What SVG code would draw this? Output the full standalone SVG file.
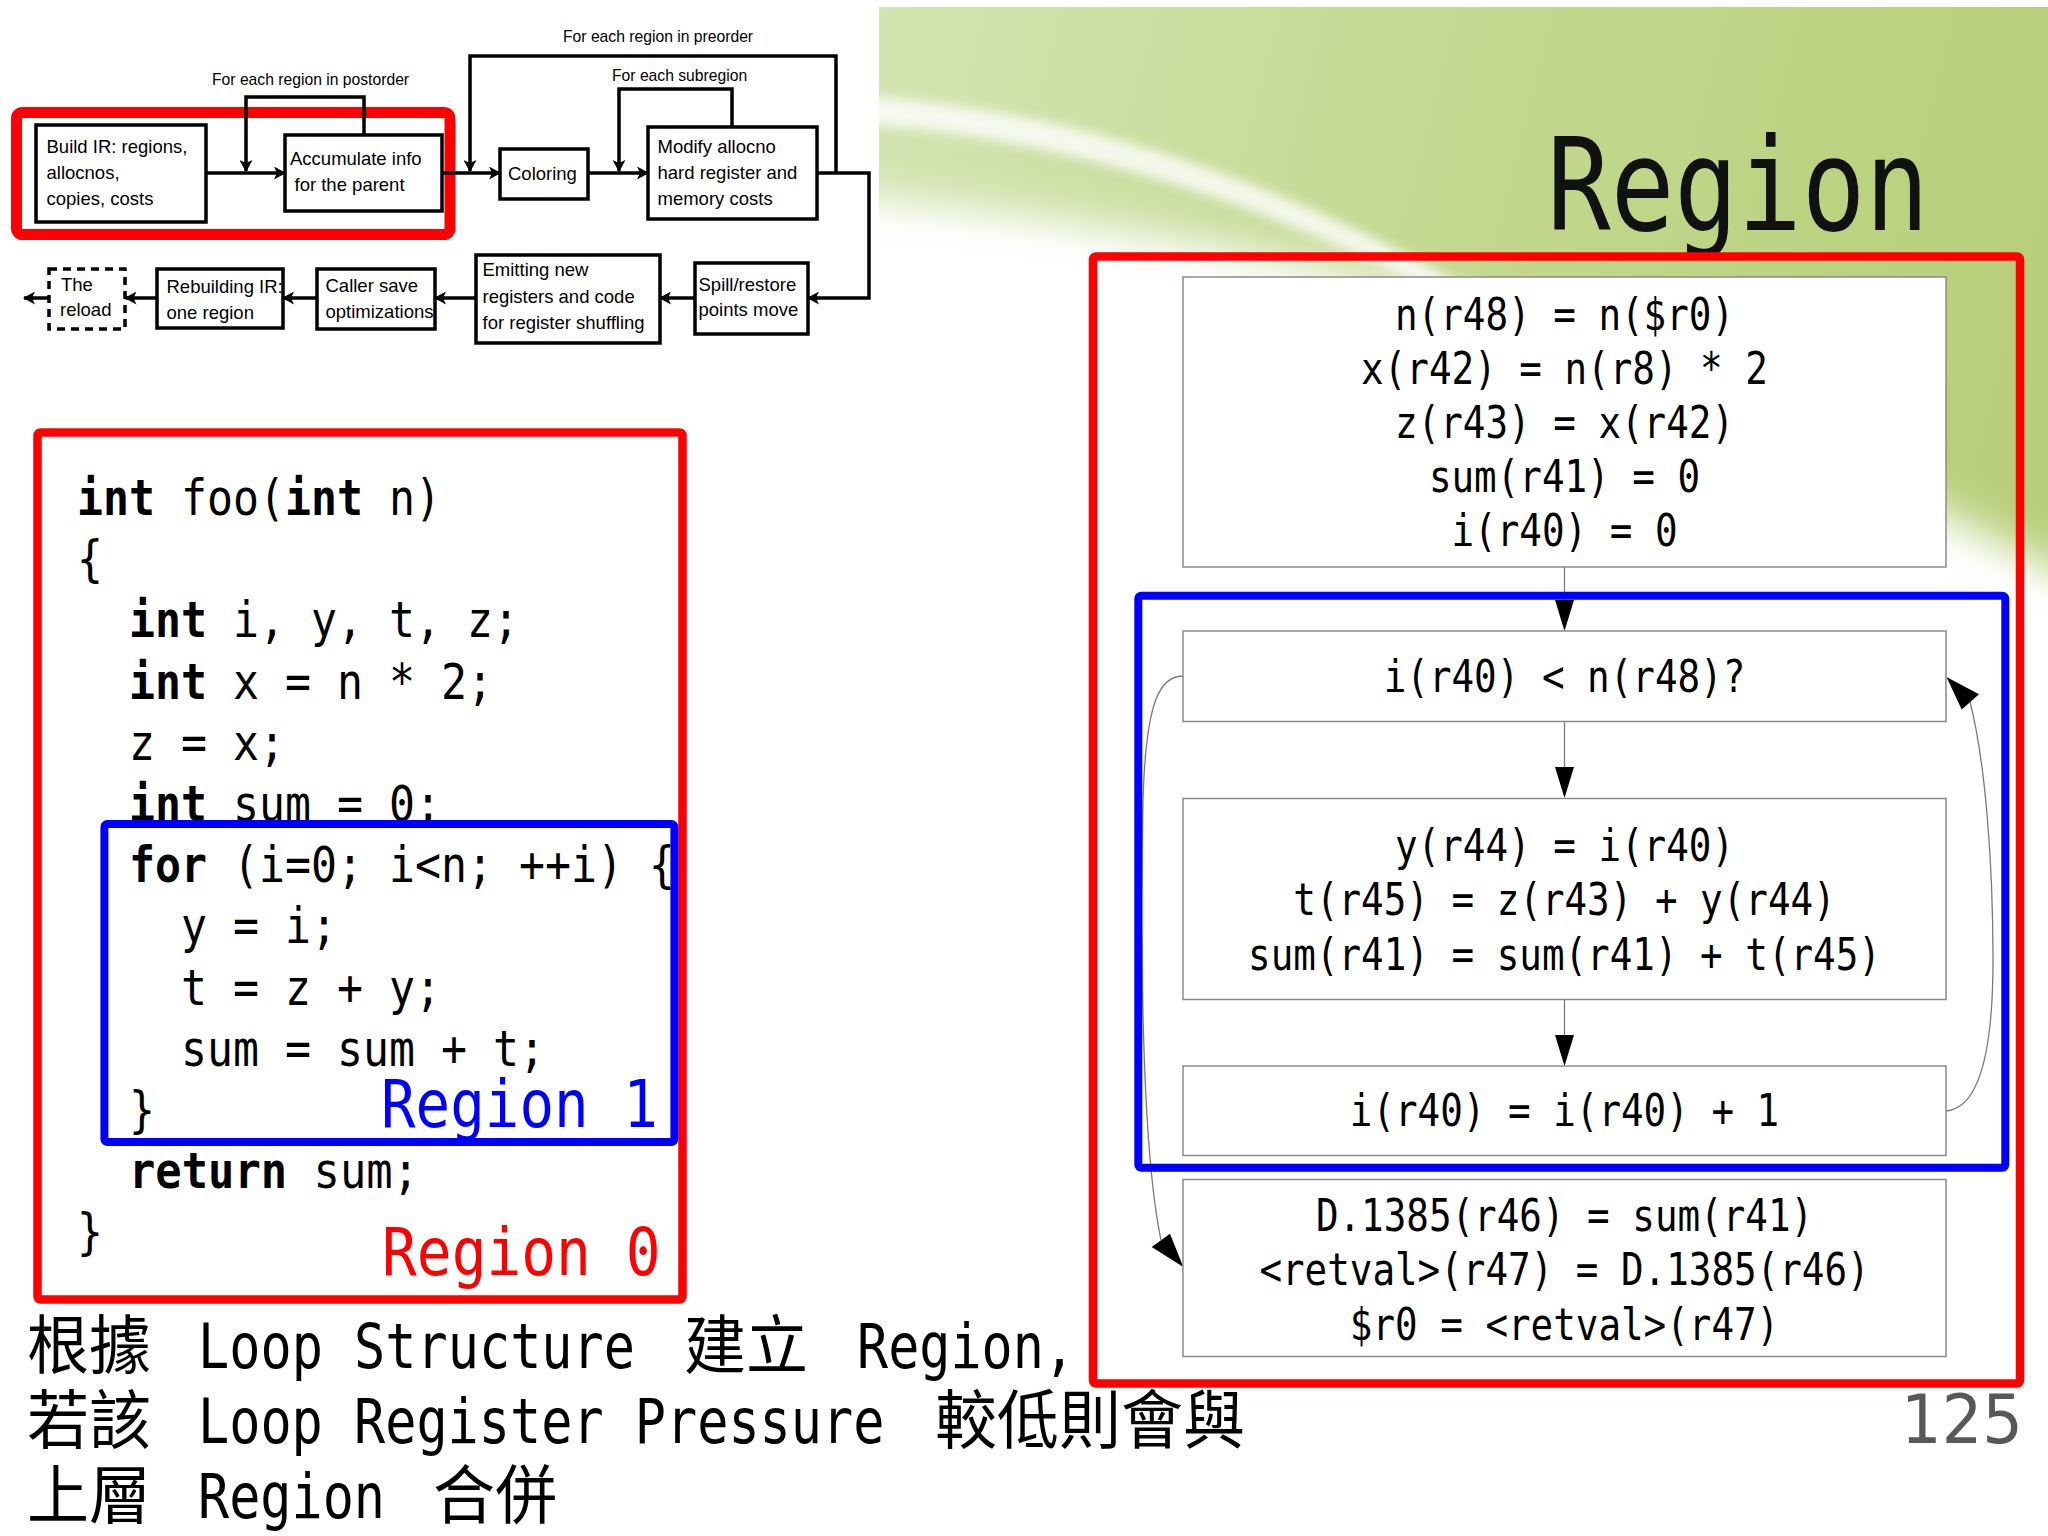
<svg xmlns="http://www.w3.org/2000/svg" width="2048" height="1536" viewBox="0 0 2048 1536">
<defs>
  <linearGradient id="gGreen" gradientUnits="userSpaceOnUse" x1="879" y1="0" x2="2048" y2="300">
    <stop offset="0" stop-color="#d3e4b2"/>
    <stop offset="0.5" stop-color="#c3d88f"/>
    <stop offset="1" stop-color="#b7cf7a"/>
  </linearGradient>
  <filter id="blurBig" x="-20%" y="-30%" width="140%" height="160%"><feGaussianBlur stdDeviation="22"/></filter>
  <filter id="blurSm" x="-10%" y="-30%" width="120%" height="160%"><feGaussianBlur stdDeviation="6"/></filter>
  <clipPath id="panelClip"><rect x="879" y="7" width="1169" height="900"/></clipPath>
  <marker id="ah" viewBox="0 0 12 13" refX="11" refY="6.5" markerWidth="12" markerHeight="13" markerUnits="userSpaceOnUse" orient="auto">
    <path d="M0,0 L12,6.5 L0,13 L3,6.5 Z" fill="#000"/>
  </marker>
</defs>
<style>
  .box{fill:#fff;stroke:#000;stroke-width:3.5}
  .dash{fill:#fff;stroke:#000;stroke-width:3.5;stroke-dasharray:8 6}
  .fl{fill:none;stroke:#000;stroke-width:3.5}
  .arr{marker-end:url(#ah)}
  .ft{font-family:"Liberation Sans",Arial,sans-serif;font-size:18.5px;fill:#000}
  .lbl{font-family:"Liberation Sans",Arial,sans-serif;font-size:15.7px;fill:#000}
  .mono{font-family:"DejaVu Sans Mono",monospace}
  .code{font-family:"DejaVu Sans Mono",monospace;font-size:50px;fill:#000}
  .b{font-weight:bold}
  .node{fill:#fff;stroke:#8a8a8a;stroke-width:1.5}
  .nt{font-family:"DejaVu Sans Mono",monospace;font-size:44px;fill:#000}
  .edge{fill:none;stroke:#7a7a7a;stroke-width:1.3}
  .head{fill:#000}
  .lat{font-family:"DejaVu Sans Mono",monospace;font-size:62px;fill:#000}
  .cjk{font-family:"Noto Sans CJK TC","Noto Sans CJK SC",sans-serif;font-size:64px;fill:#000}
  .redbox{fill:none;stroke:#ff0000;stroke-width:8.5}
  .bluebox{fill:none;stroke:#0000ff;stroke-width:8}
</style>
<rect x="0" y="0" width="2048" height="1536" fill="#fff"/>

<!-- green header panel -->
<g id="background" clip-path="url(#panelClip)">
  <rect x="879" y="7" width="1169" height="900" fill="url(#gGreen)"/>
  <path filter="url(#blurBig)" fill="#fff" d="M830,195 C1050,212 1300,255 1450,298 C1650,360 1850,470 2100,590 L2100,960 L830,960 Z"/>
  <path filter="url(#blurSm)" fill="#fff" opacity="0.8" d="M860,96 C1080,108 1300,190 1470,290 L1470,312 C1300,216 1080,138 860,124 Z"/>
</g>

<!-- title -->
<text id="title" class="mono" x="1547" y="230" font-size="128" fill="#111" textLength="382" lengthAdjust="spacingAndGlyphs">Region</text>

<!-- top-left flow diagram -->
<g id="flow">
  <rect id="highlight" x="16.5" y="112.5" width="433.5" height="122" rx="6" fill="none" stroke="#ff0000" stroke-width="11"/>
  <g id="n-build"><rect class="box" x="36" y="125" width="170" height="97"/>
    <text class="ft" x="46.5" y="152.5">Build IR: regions,</text>
    <text class="ft" x="46.5" y="179">allocnos,</text>
    <text class="ft" x="46.5" y="205">copies, costs</text></g>
  <g id="n-accum"><rect class="box" x="285" y="135" width="157" height="76"/>
    <text class="ft" x="290" y="165">Accumulate info</text>
    <text class="ft" x="294.5" y="190.5">for the parent</text></g>
  <g id="n-color"><rect class="box" x="500" y="149" width="88" height="50"/>
    <text class="ft" x="508" y="179.5">Coloring</text></g>
  <g id="n-modify"><rect class="box" x="648" y="127" width="169" height="92"/>
    <text class="ft" x="657.5" y="152.5">Modify allocno</text>
    <text class="ft" x="657.5" y="178.5">hard register and</text>
    <text class="ft" x="657.5" y="204.5">memory costs</text></g>
  <g id="n-spill"><rect class="box" x="695" y="263" width="113" height="71"/>
    <text class="ft" x="698.5" y="290.5">Spill/restore</text>
    <text class="ft" x="698.5" y="316">points move</text></g>
  <g id="n-emit"><rect class="box" x="476" y="255" width="184" height="88"/>
    <text class="ft" x="482.5" y="276">Emitting new</text>
    <text class="ft" x="482.5" y="302.5">registers and code</text>
    <text class="ft" x="482.5" y="329">for register shuffling</text></g>
  <g id="n-caller"><rect class="box" x="317" y="269" width="118" height="60"/>
    <text class="ft" x="325.5" y="291.5">Caller save</text>
    <text class="ft" x="325.5" y="318">optimizations</text></g>
  <g id="n-rebuild"><rect class="box" x="157" y="269" width="126" height="59"/>
    <text class="ft" x="166.5" y="293">Rebuilding IR:</text>
    <text class="ft" x="166.5" y="319">one region</text></g>
  <g id="n-reload"><rect class="dash" x="49" y="269" width="76" height="60"/>
    <text class="ft" x="61" y="290.5">The</text>
    <text class="ft" x="60" y="315.5">reload</text></g>
  <g id="flow-labels">
    <text class="lbl" x="212" y="85">For each region in postorder</text>
    <text class="lbl" x="563" y="42">For each region in preorder</text>
    <text class="lbl" x="612" y="81">For each subregion</text>
  </g>
  <g id="flow-edges">
    <path class="fl arr" d="M206,173 H285"/>
    <path class="fl arr" d="M364,135 V97 H246 V171"/>
    <path class="fl arr" d="M442,173 H500"/>
    <path class="fl arr" d="M836,173 V56 H470 V171"/>
    <path class="fl arr" d="M588,173 H648"/>
    <path class="fl arr" d="M732,127 V89 H619 V171"/>
    <path class="fl arr" d="M817,173 H869 V298 H808"/>
    <path class="fl arr" d="M695,298 H660"/>
    <path class="fl arr" d="M476,298 H435"/>
    <path class="fl arr" d="M317,298 H283"/>
    <path class="fl arr" d="M157,298 H125.5"/>
    <path class="fl arr" d="M49,298 H24"/>
  </g>
</g>

<!-- source code -->
<g id="code">
  <text class="code" x="77" y="515" textLength="364" lengthAdjust="spacingAndGlyphs"><tspan class="b">int</tspan> foo(<tspan class="b">int</tspan> n)</text>
  <text class="code" x="77" y="576.2" textLength="26" lengthAdjust="spacingAndGlyphs">{</text>
  <text class="code" x="129" y="637.4" textLength="390" lengthAdjust="spacingAndGlyphs"><tspan class="b">int</tspan> i, y, t, z;</text>
  <text class="code" x="129" y="698.6" textLength="364" lengthAdjust="spacingAndGlyphs"><tspan class="b">int</tspan> x = n * 2;</text>
  <text class="code" x="129" y="759.8" textLength="156" lengthAdjust="spacingAndGlyphs">z = x;</text>
  <text class="code" x="129" y="821" textLength="312" lengthAdjust="spacingAndGlyphs"><tspan class="b">int</tspan> sum = 0;</text>
  <text class="code" x="129" y="882.2" textLength="546" lengthAdjust="spacingAndGlyphs"><tspan class="b">for</tspan> (i=0; i&lt;n; ++i) {</text>
  <text class="code" x="181" y="943.4" textLength="156" lengthAdjust="spacingAndGlyphs">y = i;</text>
  <text class="code" x="181" y="1004.6" textLength="260" lengthAdjust="spacingAndGlyphs">t = z + y;</text>
  <text class="code" x="181" y="1065.8" textLength="364" lengthAdjust="spacingAndGlyphs">sum = sum + t;</text>
  <text class="code" x="129" y="1127" textLength="26" lengthAdjust="spacingAndGlyphs">}</text>
  <text class="code" x="129" y="1188.2" textLength="290" lengthAdjust="spacingAndGlyphs"><tspan class="b">return</tspan> sum;</text>
  <text class="code" x="77" y="1249.4" textLength="26" lengthAdjust="spacingAndGlyphs">}</text>
  <rect id="region0-code" class="redbox" x="37.5" y="432.5" width="645" height="867" rx="3"/>
  <rect id="region1-code" class="bluebox" x="104.4" y="824" width="570" height="318" rx="3"/>
  <text class="mono" x="381" y="1127" font-size="66" fill="#0000ff" textLength="277" lengthAdjust="spacingAndGlyphs">Region 1</text>
  <text class="mono" x="382" y="1275" font-size="66" fill="#ff0000" textLength="278.6" lengthAdjust="spacingAndGlyphs">Region 0</text>
</g>

<!-- region graph -->
<g id="graph-edges">
  <path class="edge" d="M1564.5,567 V600"/>
  <polygon class="head" points="1555,600 1574,600 1564.5,631"/>
  <path class="edge" d="M1564.5,721.5 V767"/>
  <polygon class="head" points="1555,767 1574,767 1564.5,798"/>
  <path class="edge" d="M1564.5,999.5 V1035"/>
  <polygon class="head" points="1555,1035 1574,1035 1564.5,1066"/>
  <path class="edge" d="M1946,1111 C1980,1108 1993,1050 1993,960 C1993,860 1985,760 1970,702"/>
  <polygon class="head" points="1946.5,677 1961.7,709.6 1979,694.3"/>
  <path class="edge" d="M1183,676 C1160,676 1146,700 1143,800 C1140,950 1142,1150 1161,1240"/>
  <polygon class="head" points="1183.3,1267 1151.7,1247 1170,1233.8"/>
</g>
<g id="node-A"><rect class="node" x="1183" y="277" width="763" height="290"/>
  <text class="nt" x="1395" y="330" textLength="339" lengthAdjust="spacingAndGlyphs">n(r48) = n($r0)</text>
  <text class="nt" x="1361.1" y="384" textLength="406.8" lengthAdjust="spacingAndGlyphs">x(r42) = n(r8) * 2</text>
  <text class="nt" x="1395" y="438" textLength="339" lengthAdjust="spacingAndGlyphs">z(r43) = x(r42)</text>
  <text class="nt" x="1428.9" y="492" textLength="271.2" lengthAdjust="spacingAndGlyphs">sum(r41) = 0</text>
  <text class="nt" x="1451.5" y="546" textLength="226" lengthAdjust="spacingAndGlyphs">i(r40) = 0</text></g>
<g id="node-B"><rect class="node" x="1183" y="631" width="763" height="90.5"/>
  <text class="nt" x="1383.7" y="692" textLength="361.6" lengthAdjust="spacingAndGlyphs">i(r40) &lt; n(r48)?</text></g>
<g id="node-C"><rect class="node" x="1183" y="798.5" width="763" height="201"/>
  <text class="nt" x="1395" y="861" textLength="339" lengthAdjust="spacingAndGlyphs">y(r44) = i(r40)</text>
  <text class="nt" x="1293.3" y="915" textLength="542.4" lengthAdjust="spacingAndGlyphs">t(r45) = z(r43) + y(r44)</text>
  <text class="nt" x="1248.1" y="970" textLength="632.8" lengthAdjust="spacingAndGlyphs">sum(r41) = sum(r41) + t(r45)</text></g>
<g id="node-D"><rect class="node" x="1183" y="1066" width="763" height="89.5"/>
  <text class="nt" x="1349.8" y="1126" textLength="429.4" lengthAdjust="spacingAndGlyphs">i(r40) = i(r40) + 1</text></g>
<g id="node-E"><rect class="node" x="1183" y="1179.5" width="763" height="177"/>
  <text class="nt" x="1315.9" y="1231" textLength="497.2" lengthAdjust="spacingAndGlyphs">D.1385(r46) = sum(r41)</text>
  <text class="nt" x="1259.4" y="1285" textLength="610.2" lengthAdjust="spacingAndGlyphs">&lt;retval&gt;(r47) = D.1385(r46)</text>
  <text class="nt" x="1349.8" y="1340" textLength="429.4" lengthAdjust="spacingAndGlyphs">$r0 = &lt;retval&gt;(r47)</text></g>
<rect id="region0-graph" class="redbox" x="1093" y="256.5" width="927" height="1127" rx="3"/>
<rect id="region1-graph" class="bluebox" x="1138.3" y="595.8" width="867" height="572" rx="3"/>

<!-- caption -->
<g id="caption">
  <text class="cjk" x="27" y="1368" textLength="124" lengthAdjust="spacingAndGlyphs">根據</text>
  <text class="lat" x="198" y="1368" textLength="437" lengthAdjust="spacingAndGlyphs">Loop Structure</text>
  <text class="cjk" x="684" y="1368" textLength="124" lengthAdjust="spacingAndGlyphs">建立</text>
  <text class="lat" x="857" y="1368" textLength="218" lengthAdjust="spacingAndGlyphs">Region,</text>
  <text class="cjk" x="27" y="1443" textLength="124" lengthAdjust="spacingAndGlyphs">若該</text>
  <text class="lat" x="198" y="1443" textLength="686.4" lengthAdjust="spacingAndGlyphs">Loop Register Pressure</text>
  <text class="cjk" x="935" y="1443" textLength="310" lengthAdjust="spacingAndGlyphs">較低則會與</text>
  <text class="cjk" x="27" y="1518" textLength="124" lengthAdjust="spacingAndGlyphs">上層</text>
  <text class="lat" x="198" y="1518" textLength="187" lengthAdjust="spacingAndGlyphs">Region</text>
  <text class="cjk" x="433" y="1518" textLength="124" lengthAdjust="spacingAndGlyphs">合併</text>
</g>
<text id="page-number" x="1901" y="1443" font-family="DejaVu Sans, sans-serif" font-size="68" fill="#58585a" textLength="122" lengthAdjust="spacingAndGlyphs">125</text>
</svg>
